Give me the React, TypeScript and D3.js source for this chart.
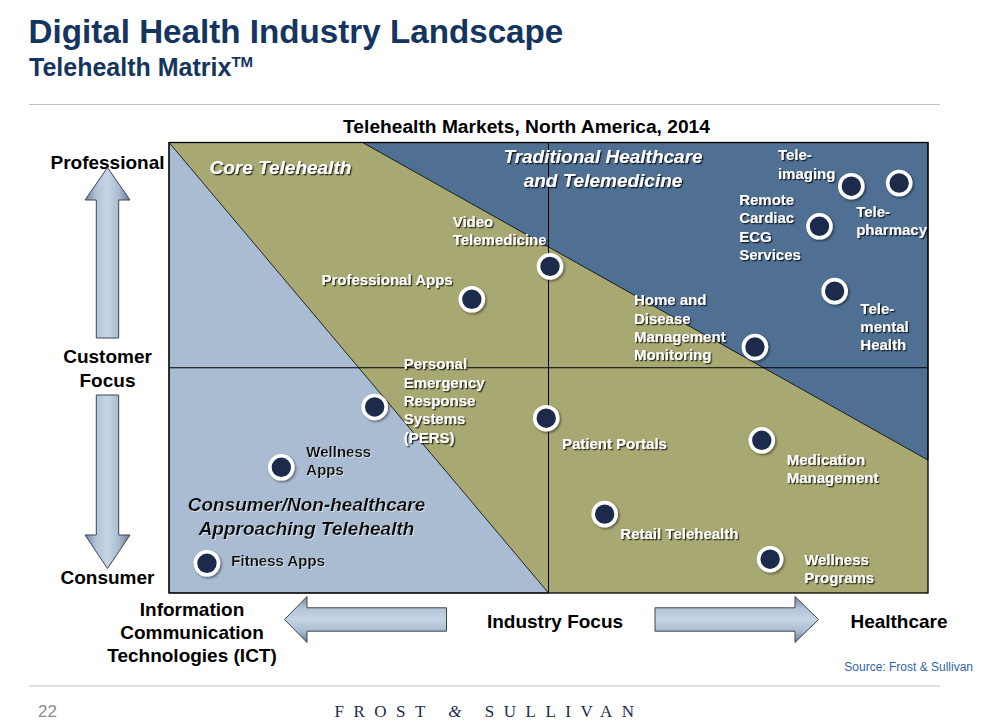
import React from "react";
import * as d3 from "d3";

// ---------- DATA ----------
const categories = [
  "Tele-imaging",
  "Tele-pharmacy",
  "Remote Cardiac ECG Services",
  "Tele-mental Health",
  "Home and Disease Management Monitoring",
  "Video Telemedicine",
  "Professional Apps",
  "Personal Emergency Response Systems (PERS)",
  "Patient Portals",
  "Wellness Apps",
  "Fitness Apps",
  "Medication Management",
  "Retail Telehealth",
  "Wellness Programs",
];
// industry focus: 0 = ICT ... 10 = Healthcare
const industryFocus = [8.99, 9.62, 8.57, 8.77, 7.72, 5.02, 3.99, 2.71, 4.97, 1.48, 0.5, 7.81, 5.74, 7.92];
// customer focus: 0 = Consumer ... 10 = Professional
const customerFocus = [9.03, 9.1, 8.14, 6.7, 5.46, 7.25, 6.52, 4.13, 3.88, 2.79, 0.66, 3.39, 1.75, 0.75];
const labelLines = [
  ["Tele-", "imaging"],
  ["Tele-", "pharmacy"],
  ["Remote", "Cardiac", "ECG", "Services"],
  ["Tele-", "mental", "Health"],
  ["Home and", "Disease", "Management", "Monitoring"],
  ["Video", "Telemedicine"],
  ["Professional Apps"],
  ["Personal", "Emergency", "Response", "Systems", "(PERS)"],
  ["Patient Portals"],
  ["Wellness", "Apps"],
  ["Fitness Apps"],
  ["Medication", "Management"],
  ["Retail Telehealth"],
  ["Wellness", "Programs"],
];
const darkLabels = ["Wellness Apps", "Fitness Apps"];

// regions (data coords)
const consumerRegion: [number, number][] = [[0, 10], [5, 0], [0, 0]];
const traditionalRegion: [number, number][] = [[2.55, 10], [10, 10], [10, 2.95]];

const chartTitle = "Telehealth Markets, North America, 2014";

// ---------- LAYOUT (label offsets in px relative to dot) ----------
const labelOffsets: [number, number][] = [
  [-73.4, -25.7],
  [-43, 33.8],
  [-80.3, -21.1],
  [25.7, 22.5],
  [-121, -41.8],
  [-97.3, -39.5],
  [-150.3, -13.8],
  [29, -37.5],
  [15.7, 31.2],
  [25, -10.8],
  [24.4, 3.2],
  [25, 24.9],
  [15.7, 24.5],
  [34, 5.9],
];

const W = 982;
const H = 723;
const PL = 169, PR = 928, PT = 142.5, PB = 593;
const FONT = "'Liberation Sans', Arial, Helvetica, sans-serif";

const C_LIGHT = "#a9bcd1";
const C_OLIVE = "#a8a873";
const C_DARK = "#4f6f93";
const C_DOT = "#1f2a4c";
const C_TITLE = "#14355f";

function vArrow(cx: number, tip: number, base: number, tail: number, hw: number, sw: number) {
  const p = d3.path();
  p.moveTo(cx, tip);
  p.lineTo(cx + hw, base);
  p.lineTo(cx + sw, base);
  p.lineTo(cx + sw, tail);
  p.lineTo(cx - sw, tail);
  p.lineTo(cx - sw, base);
  p.lineTo(cx - hw, base);
  p.closePath();
  return p.toString();
}
function hArrow(cy: number, tip: number, base: number, tail: number, hh: number, sh: number) {
  const p = d3.path();
  p.moveTo(tip, cy);
  p.lineTo(base, cy - hh);
  p.lineTo(base, cy - sh);
  p.lineTo(tail, cy - sh);
  p.lineTo(tail, cy + sh);
  p.lineTo(base, cy + sh);
  p.lineTo(base, cy + hh);
  p.closePath();
  return p.toString();
}

export default function App() {
  const x = d3.scaleLinear().domain([0, 10]).range([PL, PR]);
  const y = d3.scaleLinear().domain([0, 10]).range([PB, PT]);
  const poly = d3
    .line<[number, number]>()
    .x((d) => x(d[0]))
    .y((d) => y(d[1]));

  const lh = 18.3;

  return (
    <svg
      width={W}
      height={H}
      style={{ position: "absolute", left: 0, top: 0, background: "#fff" }}
      fontFamily={FONT}
    >
      <defs>
        <filter id="tshadow" x="-20%" y="-20%" width="140%" height="160%">
          <feDropShadow dx="1.3" dy="1.3" stdDeviation="0.6" floodColor="#000" floodOpacity="0.75" />
        </filter>
        <filter id="lshadow" x="-20%" y="-20%" width="140%" height="160%">
          <feDropShadow dx="1" dy="1" stdDeviation="0.6" floodColor="#fff" floodOpacity="0.5" />
        </filter>
        <filter id="dshadow" x="-50%" y="-50%" width="200%" height="200%">
          <feDropShadow dx="1.5" dy="1.5" stdDeviation="1.2" floodColor="#000" floodOpacity="0.45" />
        </filter>
        <linearGradient id="gv" x1="0" x2="1" y1="0" y2="0">
          <stop offset="0" stopColor="#6f8399" />
          <stop offset="0.25" stopColor="#b2c4d8" />
          <stop offset="0.5" stopColor="#c6d5e5" />
          <stop offset="0.75" stopColor="#a9bcd1" />
          <stop offset="1" stopColor="#66798f" />
        </linearGradient>
        <linearGradient id="gh" x1="0" x2="0" y1="0" y2="1">
          <stop offset="0" stopColor="#6f8399" />
          <stop offset="0.25" stopColor="#b2c4d8" />
          <stop offset="0.5" stopColor="#c6d5e5" />
          <stop offset="0.75" stopColor="#a9bcd1" />
          <stop offset="1" stopColor="#66798f" />
        </linearGradient>
      </defs>

      {/* Header */}
      <text x={28.5} y={43} fontSize={33.2} fontWeight="bold" fill={C_TITLE}>
        Digital Health Industry Landscape
      </text>
      <text x={29} y={76} fontSize={25} fontWeight="bold" fill={C_TITLE}>
        Telehealth Matrix
        <tspan fontSize={15} dy={-9}>TM</tspan>
      </text>
      <line x1={29} x2={940} y1={104.5} y2={104.5} stroke="#bfbfbf" strokeWidth={1.2} />

      {/* Chart title */}
      <text x={526.5} y={132.5} fontSize={19.2} fontWeight="bold" fill="#000" textAnchor="middle">
        {chartTitle}
      </text>

      {/* Plot regions */}
      <rect x={PL} y={PT} width={PR - PL} height={PB - PT} fill={C_OLIVE} />
      <path d={poly(consumerRegion) + "Z"} fill={C_LIGHT} stroke="#000" strokeWidth={0.8} />
      <path d={poly(traditionalRegion) + "Z"} fill={C_DARK} stroke="#000" strokeWidth={0.8} />
      <line x1={x(5)} x2={x(5)} y1={PT} y2={PB} stroke="#000" strokeWidth={1} />
      <line x1={PL} x2={PR} y1={y(5)} y2={y(5)} stroke="#000" strokeWidth={1} />
      <rect x={PL} y={PT} width={PR - PL} height={PB - PT} fill="none" stroke="#000" strokeWidth={1.3} />

      {/* Region titles */}
      <g fontWeight="bold" fontStyle="italic" fontSize={19}>
        <text x={209.5} y={173.5} fill="#fff" filter="url(#tshadow)">
          Core Telehealth
        </text>
        <text x={603} y={163} fill="#fff" textAnchor="middle" filter="url(#tshadow)">
          Traditional Healthcare
        </text>
        <text x={603} y={187} fill="#fff" textAnchor="middle" filter="url(#tshadow)">
          and Telemedicine
        </text>
        <text x={306.5} y={511} fill="#111" textAnchor="middle" filter="url(#lshadow)">
          Consumer/Non-healthcare
        </text>
        <text x={306.5} y={534.5} fill="#111" textAnchor="middle" filter="url(#lshadow)">
          Approaching Telehealth
        </text>
      </g>

      {/* Dots */}
      {categories.map((c, i) => (
        <circle
          key={c}
          cx={x(industryFocus[i])}
          cy={y(customerFocus[i])}
          r={11.5}
          fill={C_DOT}
          stroke="#fff"
          strokeWidth={3.6}
          filter="url(#dshadow)"
        />
      ))}

      {/* Labels */}
      {categories.map((c, i) => {
        const dark = darkLabels.includes(c);
        const lx = x(industryFocus[i]) + labelOffsets[i][0];
        const ly = y(customerFocus[i]) + labelOffsets[i][1];
        return (
          <text
            key={c + "-l"}
            x={lx}
            y={ly}
            fontSize={15}
            fontWeight="bold"
            fill={dark ? "#111" : "#fff"}
            filter={dark ? "url(#lshadow)" : "url(#tshadow)"}
          >
            {labelLines[i].map((t, j) => (
              <tspan key={j} x={lx} y={ly + j * lh}>
                {t}
              </tspan>
            ))}
          </text>
        );
      })}

      {/* Vertical axis */}
      <g fontWeight="bold" fontSize={19} fill="#000" textAnchor="middle">
        <text x={107.5} y={168.5}>Professional</text>
        <text x={107.5} y={363}>Customer</text>
        <text x={107.5} y={386.5}>Focus</text>
        <text x={107.5} y={584}>Consumer</text>
      </g>
      <path d={vArrow(107.5, 167.5, 200, 338, 22.5, 11.2)} fill="url(#gv)" stroke="#3d4650" strokeWidth={1} />
      <path d={vArrow(107.5, 568.5, 535, 395, 22.5, 11.2)} fill="url(#gv)" stroke="#3d4650" strokeWidth={1} />

      {/* Horizontal axis */}
      <path d={hArrow(619.5, 284.5, 307, 446.5, 23, 11.7)} fill="url(#gh)" stroke="#3d4650" strokeWidth={1} />
      <path d={hArrow(619.5, 818.5, 795, 655, 23, 11.7)} fill="url(#gh)" stroke="#3d4650" strokeWidth={1} />
      <g fontWeight="bold" fill="#000" textAnchor="middle" fontSize={19}>
        <text x={555} y={628}>Industry Focus</text>
        <text x={899} y={628}>Healthcare</text>
        <text x={192} y={615.5}>Information</text>
        <text x={192} y={638.5}>Communication</text>
        <text x={192} y={661.5}>Technologies (ICT)</text>
      </g>

      <text x={973} y={670.5} fontSize={12} fill="#2f66a6" textAnchor="end">
        Source: Frost &amp; Sullivan
      </text>

      {/* Footer */}
      <line x1={29} x2={940} y1={686} y2={686} stroke="#bfbfbf" strokeWidth={1.2} />
      <text x={38} y={717} fontSize={17} fill="#8c8c8c">22</text>
      <text
        x={489}
        y={717}
        fontSize={17}
        fill="#1b2b4b"
        textAnchor="middle"
        letterSpacing={9.5}
        fontFamily="'Liberation Serif', 'DejaVu Serif', Times, serif"
      >
        FROST <tspan fontStyle="italic">&amp;</tspan> SULLIVAN
      </text>
    </svg>
  );
}
